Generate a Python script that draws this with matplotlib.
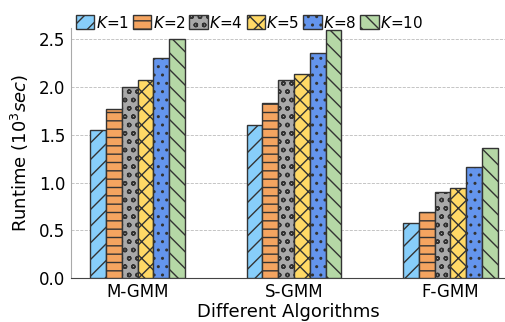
import matplotlib.pyplot as plt
import numpy as np

algorithms = ['M-GMM', 'S-GMM', 'F-GMM']
k_values = [1, 2, 4, 5, 8, 10]
runtime = {
    1: [1.55, 1.60, 0.58],
    2: [1.77, 1.83, 0.69],
    4: [2.00, 2.08, 0.90],
    5: [2.08, 2.14, 0.94],
    8: [2.31, 2.36, 1.16],
    10: [2.50, 2.60, 1.36],
}

colors = ['#87CEFA', '#F4A460', '#A9A9A9', '#FFD966', '#6495ED', '#B5D8A6']
hatches = ['//', '--', 'oo', 'xx', '..', '\\\\']

fig = plt.figure(figsize=(5.06, 3.22), dpi=100)
ax = fig.add_axes([0.14, 0.137, 0.86, 0.776])

x = np.arange(len(algorithms))
width = 0.101
for i, k in enumerate(k_values):
    offset = (i - 2.5) * width
    ax.bar(x + offset, runtime[k], width, color=colors[i], hatch=hatches[i],
           edgecolor='#333333', linewidth=1.0, label='$K$=%d' % k, zorder=3)

ax.set_xticks(x)
ax.set_xticklabels(algorithms, fontsize=12)
ax.set_xlim(-0.427, 2.355)
ax.set_ylim(0, 2.62)
ax.set_yticks([0, 0.5, 1.0, 1.5, 2.0, 2.5])
ax.tick_params(axis='both', length=0, labelsize=12, pad=4)
ax.set_ylabel('Runtime ($10^3 sec$)', fontsize=13, labelpad=6)
ax.set_xlabel('Different Algorithms', fontsize=13, labelpad=1)
ax.yaxis.grid(True, linestyle='--', linewidth=0.6, color='#bbbbbb', zorder=0)
ax.spines['top'].set_visible(False)
ax.spines['right'].set_visible(False)
ax.spines['left'].set_color('#aaaaaa')
ax.spines['bottom'].set_color('#444444')

ax.legend(loc='lower left', bbox_to_anchor=(0.012, 0.99), ncol=6, frameon=False,
          fontsize=11, handlelength=1.2, handleheight=1.0, handletextpad=0.1,
          columnspacing=0.25, borderaxespad=0.0, borderpad=0.0)

plt.savefig('out.png', dpi=100)
